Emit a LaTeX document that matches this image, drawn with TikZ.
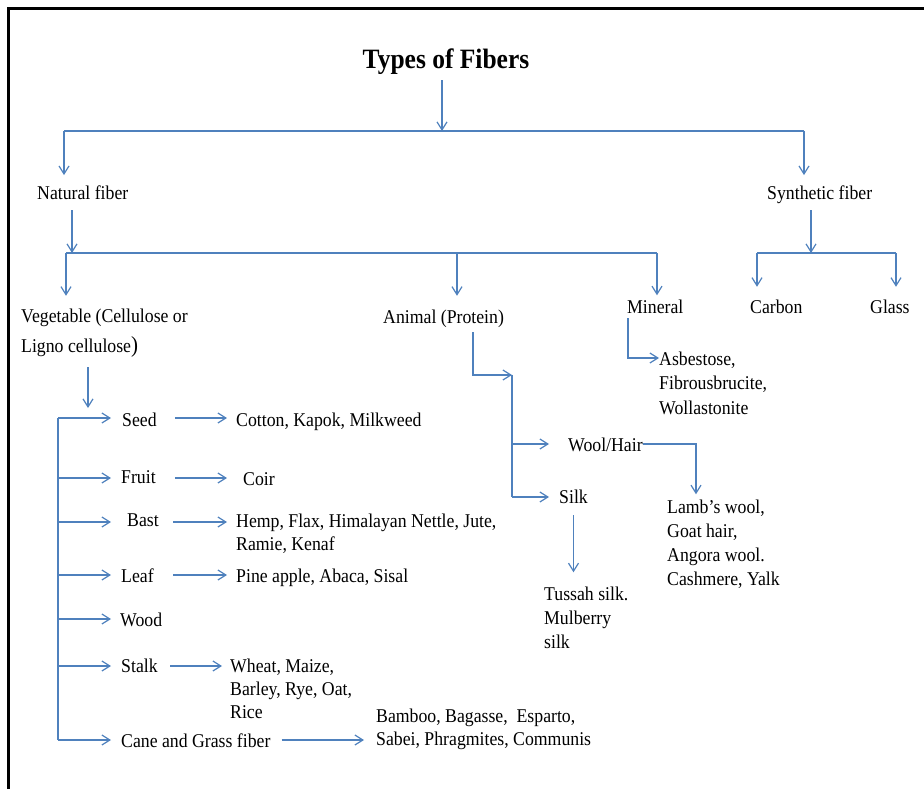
\documentclass[tikz,border=0pt]{standalone}
\usepackage{fontspec}
\setmainfont{Liberation Serif}[FakeStretch=0.91]
\usepackage{tikz}
\usetikzlibrary{arrows.meta, positioning}
\definecolor{linkblue}{RGB}{79, 129, 189}
\newcommand{\fiberfont}{\fontsize{19.5}{24.5}\selectfont}

\begin{document}
\begin{tikzpicture}[x=1pt, y=-1pt,
    arr/.style={-{Straight Barb[length=8pt,width=10pt]}, draw=linkblue, line width=1.2pt},
    bus/.style={draw=linkblue, line width=1.2pt},
    lbl/.style={anchor=base west, inner sep=0pt, font=\fiberfont, align=left},
    head/.style={anchor=base, inner sep=0pt, font=\fontsize{28}{30}\selectfont\bfseries}
]
\useasboundingbox (0,0) rectangle (924,789);
% frame, only left and top edges show
\draw[line width=3pt] (8.5,789) -- (8.5,9) -- (924,9);

% title and first split
\node[head] (title) at (446,69) {Types of Fibers};
\node[lbl] (natural) at (37,199) {Natural fiber};
\node[lbl] (synthetic) at (767,199) {Synthetic fiber};
\coordinate (split) at (442,131);
\coordinate (splitL) at (64,131);
\coordinate (splitR) at (804,131);
\draw[arr, shorten <=5pt] (title.south -| split) -- (split);
\draw[bus] (splitL) -- (splitR);
\draw[arr, shorten >=10pt] (splitL) -- (splitL |- natural.north);
\draw[arr, shorten >=10pt] (splitR) -- (splitR |- synthetic.north);

% natural fiber (multi-line nodes sit on their last line)
\node[lbl, font=\fontsize{19.5}{30}\selectfont] (veg) at (21,352) {Vegetable (Cellulose or\\Ligno cellulose{\fontsize{23}{24}\selectfont)}};
\node[lbl] (animal) at (383,323) {Animal (Protein)};
\node[lbl] (mineral) at (627,313) {Mineral};
\coordinate (natsplit) at (72,253);
\coordinate (vegtop) at (66,253);
\coordinate (animaltop) at (457,253);
\coordinate (mineraltop) at (657,253);
\draw[arr, shorten <=11pt] (natural.south -| natsplit) -- (natsplit);
\draw[bus] (vegtop) -- (mineraltop);
\draw[arr, shorten >=12.5pt] (vegtop) -- (vegtop |- veg.north);
\draw[arr, shorten >=13.5pt] (animaltop) -- (animaltop |- animal.north);
\draw[arr, shorten >=4pt] (mineraltop) -- (mineraltop |- mineral.north);

% synthetic fiber
\node[lbl] (carbon) at (750,313) {Carbon};
\node[lbl] (glass) at (870,313) {Glass};
\coordinate (synsplit) at (811,253);
\coordinate (carbontop) at (757,253);
\coordinate (glasstop) at (896,253);
\draw[arr, shorten <=7pt] (synthetic.south -| synsplit) -- (synsplit);
\draw[bus] (carbontop) -- (glasstop);
\draw[arr, shorten >=12.5pt] (carbontop) -- (carbontop |- carbon.north);
\draw[arr, shorten >=12.5pt] (glasstop) -- (glasstop |- glass.north);

% mineral
\node[lbl] (asb) at (659,414) {Asbestose,\\Fibrousbrucite,\\Wollastonite};
\coordinate (minbend) at (628,358);
\draw[arr, shorten <=5pt] (mineral.south -| minbend) -- (minbend) -- (minbend -| asb.west);

% animal
\node[lbl] (wool) at (568,451) {Wool/Hair};
\node[lbl] (silk) at (559,503) {Silk};
\node[lbl, font=\fontsize{19.5}{24}\selectfont] (lamb) at (667,585) {Lamb’s wool,\\Goat hair,\\Angora wool.\\Cashmere, Yalk};
\node[lbl, font=\fontsize{19.5}{24}\selectfont] (tussah) at (544,648) {Tussah silk.\\Mulberry\\silk};
\coordinate (anibend) at (473,375);
\coordinate (anitop) at (512,375);
\coordinate (woolfork) at (512,444);
\coordinate (silkfork) at (512,497);
\coordinate (woolbend) at (696,444);
\draw[arr, shorten <=5pt] (animal.south -| anibend) -- (anibend) -- (anitop);
\draw[bus] (anitop) -- (silkfork);
\draw[arr, shorten >=19pt] (woolfork) -- (woolfork -| wool.west);
\draw[arr, shorten >=10pt] (silkfork) -- (silkfork -| silk.west);
\draw[arr, shorten >=5pt] (woolbend -| wool.east) -- (woolbend) -- (woolbend |- lamb.north);
\draw[arr, shorten <=12pt, shorten >=14pt] (silk.south) -- (silk.south |- tussah.north);

% vegetable
\node[lbl] (seed) at (122,426) {Seed};
\node[lbl] (fruit) at (121,483) {Fruit};
\node[lbl] (bast) at (127,526) {Bast};
\node[lbl] (leaf) at (121,582) {Leaf};
\node[lbl] (wood) at (120,626) {Wood};
\node[lbl] (stalk) at (121,672) {Stalk};
\node[lbl] (cane) at (121,747) {Cane and Grass fiber};
\node[lbl] (cotton) at (236,426) {Cotton, Kapok, Milkweed};
\node[lbl] (coir) at (243,485) {Coir};
\node[lbl, font=\fontsize{19.5}{23}\selectfont] (hemp) at (236,550) {Hemp, Flax, Himalayan Nettle, Jute,\\Ramie, Kenaf};
\node[lbl] (pine) at (236,582) {Pine apple, Abaca, Sisal};
\node[lbl, font=\fontsize{19.5}{23}\selectfont] (wheat) at (230,718) {Wheat, Maize,\\Barley, Rye, Oat,\\Rice};
\node[lbl, font=\fontsize{19.5}{22.5}\selectfont] (bamboo) at (376,745) {Bamboo, Bagasse,\ \ Esparto,\\Sabei, Phragmites, Communis};
\coordinate (vegend) at (88,408);
\coordinate (b1) at (58,418);
\coordinate (b2) at (58,478);
\coordinate (b3) at (58,522);
\coordinate (b4) at (58,575);
\coordinate (b5) at (58,619);
\coordinate (b6) at (58,666);
\coordinate (b7) at (58,740);
\draw[arr, shorten <=10pt] (veg.south -| vegend) -- (vegend);
\draw[bus] (b1) -- (b7);
\draw[arr, shorten >=11pt] (b1) -- (b1 -| seed.west);
\draw[arr, shorten >=10pt] (b2) -- (b2 -| fruit.west);
\draw[arr, shorten >=16pt] (b3) -- (b3 -| bast.west);
\draw[arr, shorten >=10pt] (b4) -- (b4 -| leaf.west);
\draw[arr, shorten >=9pt] (b5) -- (b5 -| wood.west);
\draw[arr, shorten >=10pt] (b6) -- (b6 -| stalk.west);
\draw[arr, shorten >=10pt] (b7) -- (b7 -| cane.west);
\draw[arr, shorten <=18pt, shorten >=9pt] (b1 -| seed.east) -- (b1 -| cotton.west);
\draw[arr, shorten <=19pt, shorten >=16pt] (b2 -| fruit.east) -- (b2 -| coir.west);
\draw[arr, shorten <=14.5pt, shorten >=9pt] (b3 -| bast.east) -- (b3 -| hemp.west);
\draw[arr, shorten <=19.5pt, shorten >=9pt] (b4 -| leaf.east) -- (b4 -| pine.west);
\draw[arr, shorten <=12.5pt, shorten >=8pt] (b6 -| stalk.east) -- (b6 -| wheat.west);
\draw[arr, shorten <=11pt, shorten >=12pt] (b7 -| cane.east) -- (b7 -| bamboo.west);
\end{tikzpicture}
\end{document}
